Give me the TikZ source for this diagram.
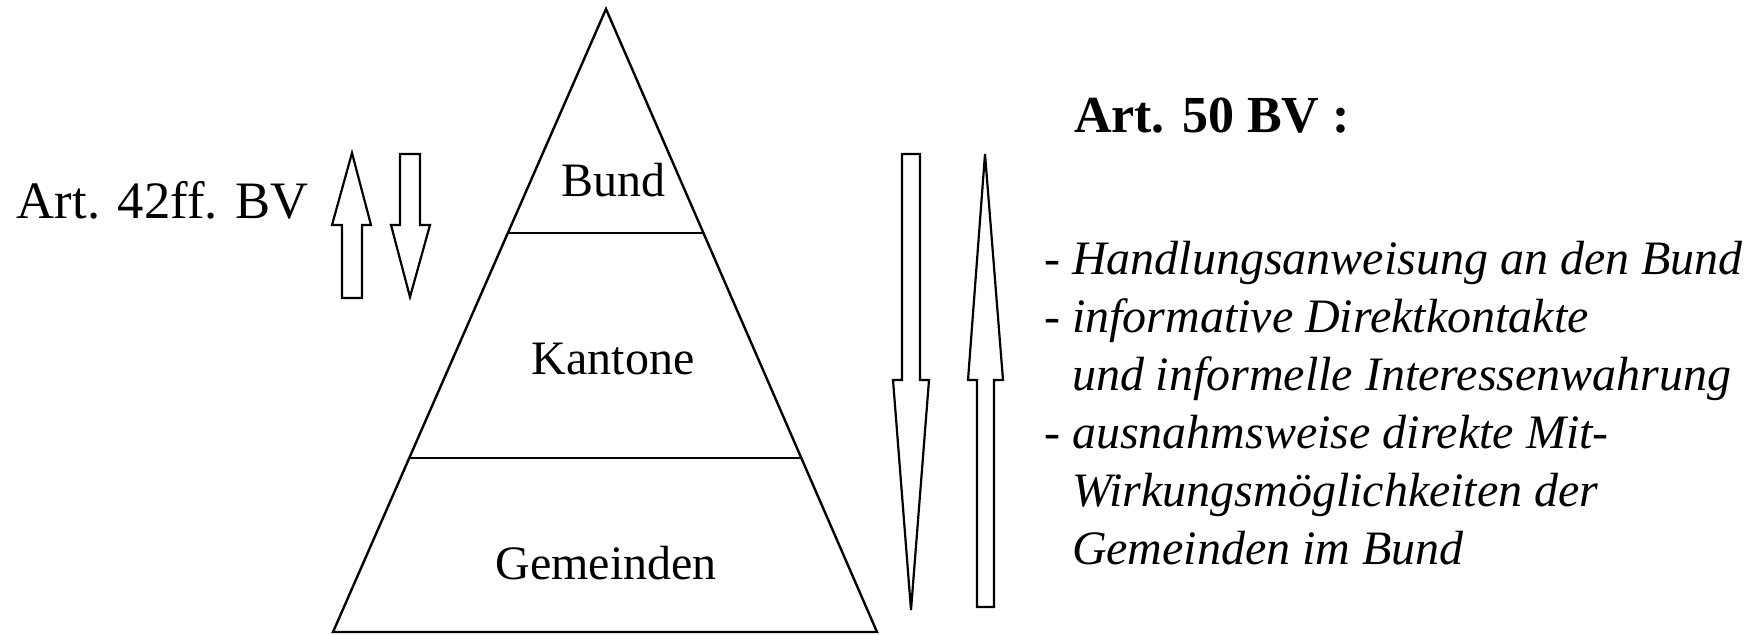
\documentclass[tikz,border=0pt]{standalone}
\usepackage{fontspec}
\setmainfont{Liberation Serif}
\usepackage{tikz}

\begin{document}
\begin{tikzpicture}[x=0.5pt, y=-0.5pt, line join=miter,
    every node/.style={inner sep=0pt, outer sep=0pt},
    level/.style={font=\fontsize{24}{29}\selectfont},
    blockarrow/.style={draw, line width=1.1pt}]
  \useasboundingbox (0,0) rectangle (1760,634);
  % Pyramide
  \coordinate (apex) at (606,9);
  \coordinate (bl) at (333,632);
  \coordinate (br) at (877,632);
  \draw[line width=1.2pt] (apex) -- (bl) -- (br) -- cycle;
  \draw[line width=1.2pt] (508,233) -- (703,233);
  \draw[line width=1.2pt] (410,458) -- (801,458);
  \node[level] (bund) at (613,180) {Bund};
  \node[level] (kantone) at (613,359) {Kantone};
  \node[level] (gemeinden) at (606,563) {Gemeinden};
  % links
  \node[anchor=west, font=\fontsize{26.3}{31}\selectfont] (art42) at (17,200) {Art. 42ff. BV};
  \draw[blockarrow] (342,298) -- (342,225) -- (332,225) -- (352,153) -- (371,225) -- (362,225) -- (362,298) -- cycle;
  \draw[blockarrow] (400,154) -- (420,154) -- (420,225) -- (430,225) -- (410,297) -- (391,225) -- (400,225) -- cycle;
  % rechts
  \draw[blockarrow] (902,154) -- (920,154) -- (920,380) -- (929,380) -- (911,610) -- (893,380) -- (902,380) -- cycle;
  \draw[blockarrow] (977,607) -- (977,380) -- (968,380) -- (985,154) -- (1003,380) -- (994,380) -- (994,607) -- cycle;
  \node[anchor=west, font=\fontsize{26}{31}\selectfont\bfseries] (art50) at (1074,116) {Art. 50 BV :};
  \node[anchor=north west, align=left, font=\fontsize{24}{29}\selectfont\itshape] (liste) at (1044,241)
    {- Handlungsanweisung an den Bund\\
     - informative Direktkontakte\\
     \phantom{- }und informelle Interessenwahrung\\
     - ausnahmsweise direkte Mit-\\
     \phantom{- }Wirkungsmöglichkeiten der\\
     \phantom{- }Gemeinden im Bund};
\end{tikzpicture}
\end{document}
